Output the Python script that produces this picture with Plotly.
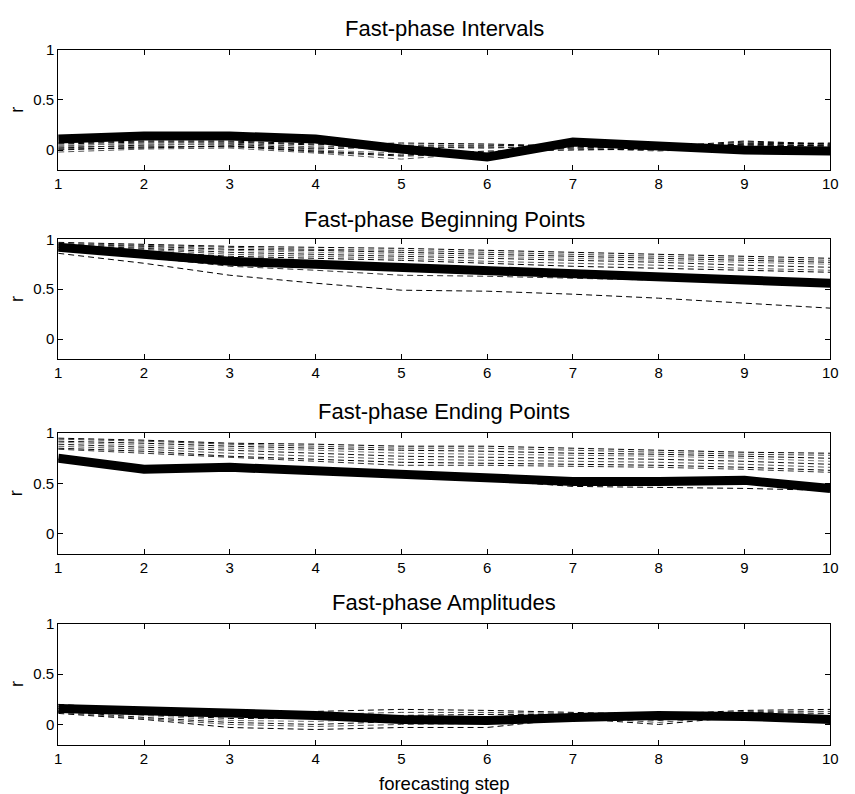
import plotly.graph_objects as go

# Forecasting steps shared by all four panels
steps = [1, 2, 3, 4, 5, 6, 7, 8, 9, 10]
x_ticks = [1, 2, 3, 4, 5, 6, 7, 8, 9, 10]
y_ticks = [0, 0.5, 1]
y_tick_text = ["0", "0.5", "1"]

panel_titles = [
    "Fast-phase Intervals",
    "Fast-phase Beginning Points",
    "Fast-phase Ending Points",
    "Fast-phase Amplitudes",
]

# Mean correlation (thick line) per panel
intervals_mean = [0.11, 0.14, 0.14, 0.11, 0.01, -0.07, 0.08, 0.04, 0.00, -0.01]
beginning_mean = [0.92, 0.85, 0.78, 0.75, 0.72, 0.69, 0.64, 0.61, 0.59, 0.56]
ending_mean = [0.75, 0.64, 0.66, 0.63, 0.59, 0.55, 0.52, 0.52, 0.53, 0.45]
amplitudes_mean = [0.16, 0.14, 0.12, 0.09, 0.05, 0.04, 0.07, 0.09, 0.08, 0.05]

# Individual subject correlations (dashed lines) per panel
intervals_runs = [
    [0.06, 0.08, 0.08, 0.05, 0.07, 0.06, 0.04, 0.02, 0.08, 0.06],
    [0.04, 0.07, 0.07, 0.03, 0.05, 0.05, 0.03, 0.01, 0.07, 0.05],
    [0.02, 0.05, 0.06, 0.01, 0.04, 0.04, 0.05, 0.02, 0.06, 0.07],
    [0.05, 0.06, 0.05, 0.00, -0.03, -0.02, 0.02, 0.00, 0.05, 0.04],
    [0.00, 0.03, 0.04, -0.02, -0.06, -0.04, 0.03, 0.01, 0.04, 0.05],
    [-0.02, 0.01, 0.02, -0.03, -0.09, -0.03, 0.02, -0.01, 0.03, 0.03],
    [0.07, 0.09, 0.09, 0.06, 0.03, 0.02, 0.04, 0.03, 0.09, 0.06],
    [0.03, 0.04, 0.03, 0.02, 0.02, 0.03, 0.01, 0.00, 0.05, 0.04],
    [0.01, 0.02, 0.04, -0.01, -0.05, -0.01, 0.00, 0.01, 0.06, 0.04],
]
beginning_runs = [
    [0.97, 0.95, 0.93, 0.92, 0.91, 0.89, 0.87, 0.85, 0.83, 0.81],
    [0.96, 0.94, 0.92, 0.90, 0.89, 0.87, 0.85, 0.83, 0.81, 0.79],
    [0.95, 0.93, 0.90, 0.89, 0.87, 0.85, 0.83, 0.81, 0.79, 0.77],
    [0.95, 0.92, 0.89, 0.87, 0.85, 0.83, 0.81, 0.79, 0.77, 0.75],
    [0.94, 0.91, 0.87, 0.85, 0.83, 0.81, 0.79, 0.77, 0.74, 0.72],
    [0.93, 0.90, 0.85, 0.83, 0.81, 0.78, 0.76, 0.74, 0.71, 0.69],
    [0.92, 0.88, 0.83, 0.81, 0.79, 0.76, 0.73, 0.71, 0.69, 0.67],
    [0.90, 0.82, 0.73, 0.69, 0.64, 0.63, 0.61, 0.59, 0.58, 0.57],
    [0.86, 0.76, 0.64, 0.56, 0.49, 0.48, 0.45, 0.41, 0.36, 0.31],
]
ending_runs = [
    [0.95, 0.93, 0.90, 0.89, 0.87, 0.87, 0.85, 0.83, 0.81, 0.80],
    [0.94, 0.92, 0.89, 0.87, 0.85, 0.85, 0.83, 0.81, 0.79, 0.78],
    [0.92, 0.90, 0.87, 0.85, 0.83, 0.82, 0.80, 0.79, 0.77, 0.75],
    [0.91, 0.88, 0.85, 0.83, 0.80, 0.79, 0.78, 0.77, 0.75, 0.72],
    [0.89, 0.86, 0.83, 0.80, 0.77, 0.76, 0.75, 0.74, 0.72, 0.69],
    [0.87, 0.84, 0.80, 0.77, 0.74, 0.73, 0.72, 0.71, 0.69, 0.66],
    [0.85, 0.82, 0.77, 0.74, 0.71, 0.70, 0.69, 0.68, 0.66, 0.63],
    [0.84, 0.80, 0.76, 0.72, 0.68, 0.68, 0.67, 0.66, 0.64, 0.61],
    [0.74, 0.64, 0.65, 0.62, 0.58, 0.53, 0.47, 0.46, 0.45, 0.43],
]
amplitudes_runs = [
    [0.20, 0.15, 0.10, 0.13, 0.15, 0.14, 0.12, 0.10, 0.14, 0.15],
    [0.18, 0.12, 0.08, 0.10, 0.12, 0.12, 0.11, 0.09, 0.13, 0.13],
    [0.16, 0.10, 0.06, 0.06, 0.09, 0.10, 0.10, 0.08, 0.12, 0.11],
    [0.14, 0.09, 0.04, 0.03, 0.06, 0.07, 0.09, 0.06, 0.11, 0.09],
    [0.13, 0.07, 0.02, 0.00, 0.03, 0.04, 0.08, 0.04, 0.10, 0.08],
    [0.12, 0.06, 0.00, -0.02, 0.00, 0.01, 0.07, 0.02, 0.09, 0.07],
    [0.11, 0.05, -0.03, -0.05, -0.03, -0.03, 0.06, 0.00, 0.08, 0.05],
]

means = [intervals_mean, beginning_mean, ending_mean, amplitudes_mean]
runs = [intervals_runs, beginning_runs, ending_runs, amplitudes_runs]

W, H = 855, 794
x_left, x_right = 55, 838
panel_px = [(41, 163), (233, 354), (429, 551), (622, 744)]
title_px = [20, 213, 407, 600]

FONT = "Liberation Sans, Arial, Helvetica, sans-serif"
run_colors = ["#000000", "#444444", "#000000", "#777777", "#111111", "#555555", "#000000", "#333333", "#000000"]

fig = go.Figure()
layout = dict(
    width=W, height=H,
    margin=dict(l=0, r=0, t=0, b=0),
    paper_bgcolor="white", plot_bgcolor="white",
    showlegend=False,
    font=dict(family=FONT, color="black", size=15),
    annotations=[],
)

for i in range(4):
    xa = "x" if i == 0 else f"x{i + 1}"
    ya = "y" if i == 0 else f"y{i + 1}"
    for k, run in enumerate(runs[i]):
        fig.add_trace(go.Scatter(
            x=steps, y=run, mode="lines", xaxis=xa, yaxis=ya,
            line=dict(color=run_colors[k % len(run_colors)], width=1, dash="6px,4px"),
            hoverinfo="skip",
        ))
    fig.add_trace(go.Scatter(
        x=steps, y=means[i], mode="lines", xaxis=xa, yaxis=ya,
        line=dict(color="black", width=9),
    ))

    top, bot = panel_px[i]
    axis_common = dict(
        showgrid=False, zeroline=False, showline=True, linecolor="black",
        linewidth=1, mirror="ticks", ticks="inside", ticklen=5,
        tickcolor="black", tickfont=dict(size=15, family=FONT),
        ticklabeloverflow="allow",
    )
    layout["xaxis" if i == 0 else f"xaxis{i + 1}"] = dict(
        domain=[x_left / W, x_right / W], range=[1, 10],
        tickvals=x_ticks, anchor=ya, **axis_common,
    )
    layout["yaxis" if i == 0 else f"yaxis{i + 1}"] = dict(
        domain=[1 - bot / H, 1 - top / H], range=[-0.2, 1],
        tickvals=y_ticks, ticktext=y_tick_text, anchor=xa, **axis_common,
    )
    layout["annotations"].append(dict(
        text=panel_titles[i], xref="paper", yref="paper",
        x=(x_left + x_right) / 2 / W, y=1 - title_px[i] / H,
        xanchor="center", yanchor="middle", showarrow=False,
        font=dict(size=22, family=FONT),
    ))
    layout["annotations"].append(dict(
        text="r", xref="paper", yref="paper",
        x=13 / W, y=1 - (top + bot) / 2 / H, textangle=-90,
        xanchor="center", yanchor="middle", showarrow=False,
        font=dict(size=18, family=FONT),
    ))

layout["annotations"].append(dict(
    text="forecasting step", xref="paper", yref="paper",
    x=(x_left + x_right) / 2 / W, y=1 - 783 / H,
    xanchor="center", yanchor="middle", showarrow=False,
    font=dict(size=18.5, family=FONT),
))

fig.update_layout(**layout)
fig.write_html("out.html")
